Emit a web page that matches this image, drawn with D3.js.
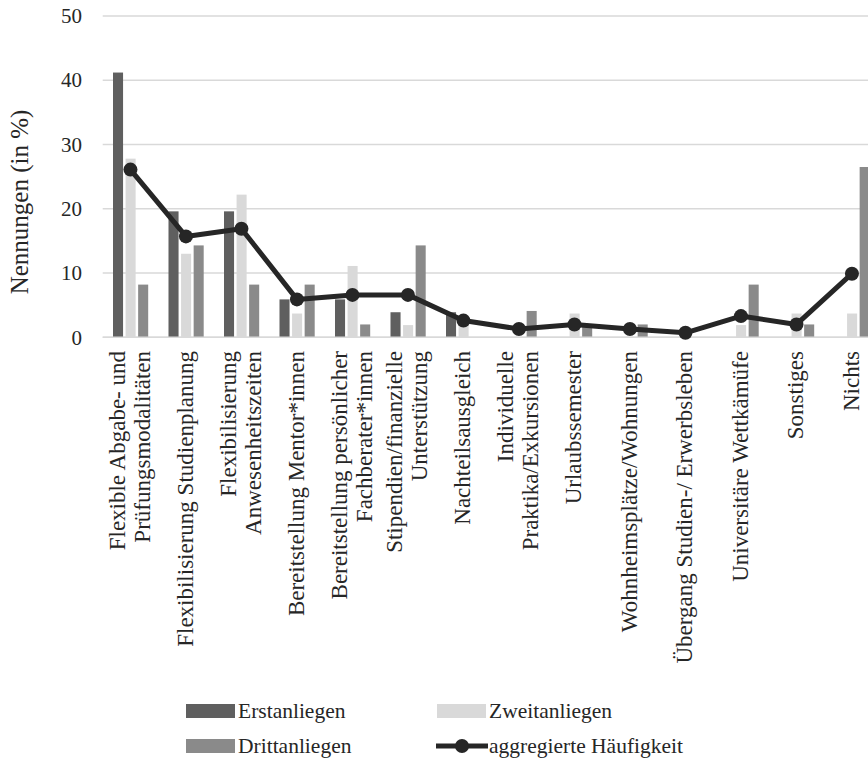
<!DOCTYPE html>
<html>
<head>
<meta charset="utf-8">
<script src="https://cdn.jsdelivr.net/npm/d3@7"></script>
<style>
  body { margin: 0; background: #fff; }
  svg text { font-family: "Liberation Serif", "Times New Roman", serif; }
</style>
</head>
<body>
<div id="chart"></div>
<script>
// categories (multi-line labels split by "|")
const categories = [
  "Flexible Abgabe- und|Prüfungsmodalitäten",
  "Flexibilisierung Studienplanung",
  "Flexibilisierung|Anwesenheitszeiten",
  "Bereitstellung Mentor*innen",
  "Bereitstellung persönlicher|Fachberater*innen",
  "Stipendien/finanzielle|Unterstützung",
  "Nachteilsausgleich",
  "Individuelle|Praktika/Exkursionen",
  "Urlaubssemester",
  "Wohnheimsplätze/Wohnungen",
  "Übergang Studien-/ Erwerbsleben",
  "Universitäre Wettkämüfe",
  "Sonstiges",
  "Nichts"
];
const series = ["Erstanliegen", "Zweitanliegen", "Drittanliegen"];
const erstanliegen  = [41.2, 19.6, 19.6, 5.9, 5.9, 3.9, 3.9, 0, 0, 0, 0, 0, 0, 0];
const zweitanliegen = [27.8, 13.0, 22.2, 3.7, 11.1, 1.9, 1.9, 0, 3.7, 0, 0, 1.9, 3.7, 3.7];
const drittanliegen = [8.2, 14.3, 8.2, 8.2, 2.0, 14.3, 0, 4.1, 2.0, 2.0, 0, 8.2, 2.0, 26.5];
const aggregiert    = [26.1, 15.7, 16.9, 5.9, 6.6, 6.6, 2.6, 1.3, 2.0, 1.3, 0.7, 3.3, 2.0, 9.9];
const yTicks = [0, 10, 20, 30, 40, 50];

const colors = { "Erstanliegen": "#5f5f5f", "Zweitanliegen": "#d9d9d9", "Drittanliegen": "#8a8a8a" };
const lineColor = "#262626";

const width = 868, height = 767;
const svg = d3.select("#chart").append("svg")
  .attr("width", width)
  .attr("height", height);

const x0 = d3.scaleBand().domain(categories).range([102.7, 102.7 + 14 * 55.5]).padding(0);
const x1 = d3.scaleBand().domain(series).range([10.3, 45.5]).paddingInner(0.2);
const y = d3.scaleLinear().domain([0, 50]).range([337.3, 16]);

// gridlines
svg.append("g")
  .selectAll("line")
  .data(yTicks)
  .enter().append("line")
    .attr("x1", 102.7)
    .attr("x2", width)
    .attr("y1", d => y(d))
    .attr("y2", d => y(d))
    .attr("stroke", "#d9d9d9")
    .attr("stroke-width", 1.5);

// y axis labels
const yAxis = svg.append("g")
  .attr("transform", "translate(82,0)")
  .call(d3.axisLeft(y).tickValues(yTicks).tickSize(0).tickPadding(0));
yAxis.attr("font-size", 21);
yAxis.select(".domain").remove();
yAxis.selectAll("text").attr("fill", "#262626");

svg.append("text")
  .attr("transform", "translate(28,202) rotate(-90)")
  .attr("text-anchor", "middle")
  .attr("font-size", 25)
  .attr("fill", "#262626")
  .text("Nennungen (in %)");

// bars
const rows = categories.map((c, i) => ({
  cat: c,
  values: [erstanliegen[i], zweitanliegen[i], drittanliegen[i]]
}));

const group = svg.append("g")
  .selectAll("g")
  .data(rows)
  .enter().append("g")
    .attr("transform", d => "translate(" + x0(d.cat) + ",0)");

group.selectAll("rect")
  .data(d => d.values.map((v, j) => ({ key: series[j], value: v })))
  .enter().append("rect")
    .attr("x", d => x1(d.key))
    .attr("width", x1.bandwidth())
    .attr("y", d => y(d.value))
    .attr("height", d => y(0) - y(d.value))
    .attr("fill", d => colors[d.key]);

// baseline
svg.append("line")
  .attr("x1", 102.7).attr("x2", width)
  .attr("y1", y(0)).attr("y2", y(0))
  .attr("stroke", "#d9d9d9")
  .attr("stroke-width", 1.5);

// aggregated line
const cx = c => x0(c) + x0.bandwidth() / 2;
const line = d3.line()
  .x((d, i) => cx(categories[i]))
  .y(d => y(d));

svg.append("path")
  .datum(aggregiert)
  .attr("d", line)
  .attr("fill", "none")
  .attr("stroke", lineColor)
  .attr("stroke-width", 5)
  .attr("stroke-linejoin", "round");

svg.append("g")
  .selectAll("circle")
  .data(aggregiert)
  .enter().append("circle")
    .attr("cx", (d, i) => cx(categories[i]))
    .attr("cy", d => y(d))
    .attr("r", 7)
    .attr("fill", lineColor);

// category labels, rotated
const lh = 25;
const labels = svg.append("g")
  .selectAll("text")
  .data(categories)
  .enter().append("text")
    .attr("transform", d => "translate(" + cx(d) + ",351) rotate(-90)")
    .attr("text-anchor", "end")
    .attr("font-size", 23)
    .attr("fill", "#262626");

labels.each(function(d) {
  const parts = d.split("|");
  const t = d3.select(this);
  parts.forEach((p, k) => {
    t.append("tspan")
      .attr("x", 0)
      .attr("y", (k - (parts.length - 1) / 2) * lh + 7)
      .text(p);
  });
});

// legend
const legendItems = [
  { name: "Erstanliegen", type: "rect", x: 186, y: 711 },
  { name: "Zweitanliegen", type: "rect", x: 437, y: 711 },
  { name: "Drittanliegen", type: "rect", x: 186, y: 746 },
  { name: "aggregierte Häufigkeit", type: "line", x: 436, y: 746 }
];

const leg = svg.append("g")
  .selectAll("g")
  .data(legendItems)
  .enter().append("g")
    .attr("transform", d => "translate(" + d.x + "," + d.y + ")");

leg.filter(d => d.type === "rect").append("rect")
  .attr("x", 0).attr("y", -7)
  .attr("width", 49).attr("height", 14)
  .attr("fill", d => colors[d.name]);

leg.filter(d => d.type === "line").append("line")
  .attr("x1", 0).attr("x2", 52)
  .attr("y1", 0).attr("y2", 0)
  .attr("stroke", lineColor)
  .attr("stroke-width", 5);

leg.filter(d => d.type === "line").append("circle")
  .attr("cx", 26).attr("cy", 0).attr("r", 7)
  .attr("fill", lineColor);

leg.append("text")
  .attr("x", d => d.type === "rect" ? 52 : 53)
  .attr("y", 7)
  .attr("font-size", 21.5)
  .attr("fill", "#262626")
  .text(d => d.name);
</script>
</body>
</html>
